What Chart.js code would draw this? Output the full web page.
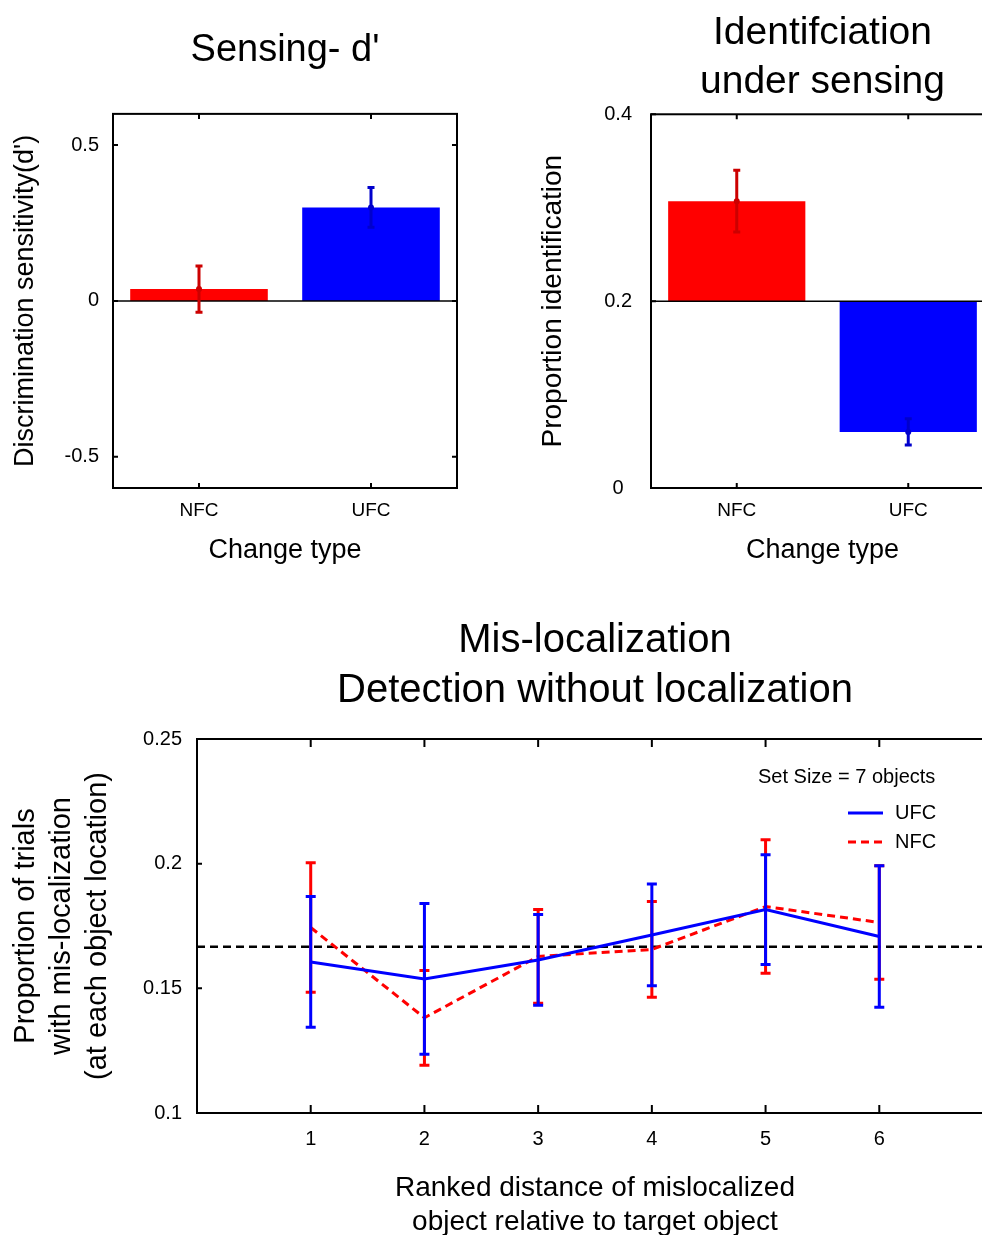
<!DOCTYPE html>
<html>
<head>
<meta charset="utf-8">
<script src="https://cdn.jsdelivr.net/npm/chart.js@4.4.1/dist/chart.umd.min.js"></script>
<style>
  html, body { margin: 0; padding: 0; background: #fff; overflow: hidden; }
  body { width: 982px; height: 1235px; position: relative; }
  canvas { position: absolute; }
  #dprime { left: 0; top: 0; }
  #ident { left: 491px; top: 0; }
  #misloc { left: 0; top: 600px; }
</style>
</head>
<body>
<canvas id="dprime" width="491" height="580"></canvas>
<canvas id="ident" width="520" height="580"></canvas>
<canvas id="misloc" width="1000" height="645"></canvas>
<script>
// valores
const CHANGE_TYPES = ["NFC", "UFC"];

const DPRIME_MEAN = [0.038, 0.30];
const DPRIME_SEM = [0.074, 0.064];
const DPRIME_TICKS = [-0.5, 0, 0.5];

const IDENT_MEAN = [0.307, 0.060];
const IDENT_SEM = [0.033, 0.014];
const IDENT_TICKS = [0, 0.2, 0.4];
const IDENT_BASE = 0.2;

const RANKS = [1, 2, 3, 4, 5, 6];
const UFC_MEAN = [0.1606, 0.1538, 0.1614, 0.1714, 0.1816, 0.1708];
const UFC_SEM = [0.0262, 0.0302, 0.0182, 0.0204, 0.022, 0.0284];
const NFC_MEAN = [0.1744, 0.1382, 0.1628, 0.1656, 0.1828, 0.1764];
const NFC_SEM = [0.026, 0.019, 0.0188, 0.0192, 0.0268, 0.0228];
const CHANCE = 1 / 6;
const RANK_RANGE = [0, 7];
const MISLOC_TICKS = [0.1, 0.15, 0.2, 0.25];

Chart.defaults.font.family = '"Liberation Sans", Arial, sans-serif';
Chart.defaults.color = "#000";

// caja tipo matlab con marcas hacia dentro
const matlabBox = {
  id: "matlabBox",
  afterDraw(chart, args, o) {
    const { ctx, chartArea: a, scales: { x, y } } = chart;
    ctx.save();
    ctx.strokeStyle = "#000";
    ctx.lineWidth = o.lineWidth || 2;
    ctx.beginPath();
    x.ticks.forEach((t, i) => {
      const px = x.getPixelForTick(i);
      ctx.moveTo(px, a.bottom); ctx.lineTo(px, a.bottom - o.tickX);
      ctx.moveTo(px, a.top); ctx.lineTo(px, a.top + o.tickX);
    });
    y.ticks.forEach((t, i) => {
      const py = y.getPixelForTick(i);
      ctx.moveTo(a.left, py); ctx.lineTo(a.left + o.tickY, py);
      ctx.moveTo(a.right, py); ctx.lineTo(a.right - o.tickY, py);
    });
    ctx.stroke();
    ctx.strokeRect(a.left, a.top, a.right - a.left, a.bottom - a.top);
    ctx.restore();
  },
};

// linea base de las barras
const barBaseline = {
  id: "barBaseline",
  afterDatasetDraw(chart, args, o) {
    if (o.value === undefined) return;
    const { ctx, chartArea: a, scales: { y } } = chart;
    const py = y.getPixelForValue(o.value);
    ctx.save();
    ctx.strokeStyle = "#000";
    ctx.lineWidth = 1.5;
    ctx.beginPath();
    ctx.moveTo(a.left, py);
    ctx.lineTo(a.right, py);
    ctx.stroke();
    ctx.restore();
  },
};

// barras de error
const errorBars = {
  id: "errorBars",
  afterDatasetDraw(chart, args) {
    const ds = chart.data.datasets[args.index];
    if (!ds.errors) return;
    const { ctx, scales: { y } } = chart;
    ctx.save();
    ctx.lineWidth = ds.errorWidth;
    args.meta.data.forEach((el, i) => {
      const m = args.meta.controller.getParsed(i).y;
      const e = ds.errors[i];
      const col = Array.isArray(ds.errorColor) ? ds.errorColor[i] : ds.errorColor;
      const top = y.getPixelForValue(m + e);
      const bot = y.getPixelForValue(m - e);
      const h = ds.capWidth / 2;
      ctx.strokeStyle = col;
      ctx.beginPath();
      ctx.moveTo(el.x, top); ctx.lineTo(el.x, bot);
      ctx.moveTo(el.x - h, top); ctx.lineTo(el.x + h, top);
      ctx.moveTo(el.x - h, bot); ctx.lineTo(el.x + h, bot);
      ctx.stroke();
      if (ds.errorMarker) {
        ctx.fillStyle = col;
        ctx.beginPath();
        ctx.arc(el.x, y.getPixelForValue(m), ds.errorMarker, 0, Math.PI * 2);
        ctx.fill();
      }
    });
    ctx.restore();
  },
};

// leyenda dentro del area
const lineLegend = {
  id: "lineLegend",
  afterDraw(chart, args, o) {
    const ctx = chart.ctx;
    ctx.save();
    ctx.font = o.fontSize + "px " + Chart.defaults.font.family;
    ctx.fillStyle = "#000";
    ctx.textBaseline = "middle";
    ctx.fillText(o.title, o.titleX, o.titleY);
    o.items.forEach((idx, k) => {
      const ds = chart.data.datasets[idx];
      const ly = o.itemY + k * o.itemGap;
      ctx.strokeStyle = ds.borderColor;
      ctx.lineWidth = ds.borderWidth;
      ctx.setLineDash(ds.borderDash || []);
      ctx.beginPath();
      ctx.moveTo(o.lineX0, ly);
      ctx.lineTo(o.lineX1, ly);
      ctx.stroke();
      ctx.setLineDash([]);
      ctx.fillText(ds.label, o.textX, ly);
    });
    ctx.restore();
  },
};

const noGrid = { display: false, drawTicks: false };
const noBorder = { display: false };

function crearBarras(id, cfg) {
  new Chart(document.getElementById(id), {
    type: "bar",
    data: {
      labels: CHANGE_TYPES,
      datasets: [{
        data: cfg.mean,
        base: cfg.base,
        errors: cfg.sem,
        backgroundColor: ["#ff0000", "#0000ff"],
        errorColor: ["#cc0000", "#0000cc"],
        errorWidth: 3,
        capWidth: 7,
        errorMarker: 3,
        categoryPercentage: 1,
        barPercentage: 0.8,
      }],
    },
    options: {
      responsive: false,
      animation: false,
      layout: { padding: { left: 0, right: cfg.padRight, top: 0, bottom: 0 } },
      plugins: {
        legend: { display: false },
        tooltip: { enabled: false },
        title: {
          display: true, text: cfg.title, fullSize: false,
          font: { size: cfg.titleSize, weight: "normal", lineHeight: 1.26 },
          padding: cfg.titlePad,
        },
        matlabBox: { tickX: 5, tickY: 5, lineWidth: 2 },
        barBaseline: { value: cfg.baseline },
      },
      scales: {
        x: {
          grid: noGrid, border: noBorder,
          ticks: { font: { size: 19 }, padding: 11 },
          title: { display: true, text: "Change type", font: { size: 27 }, padding: { top: 0, bottom: 13 } },
          afterFit: (s) => { s.height = 92; },
        },
        y: {
          min: cfg.min, max: cfg.max,
          grid: noGrid, border: noBorder,
          afterBuildTicks: (s) => { s.ticks = cfg.ticks.map((v) => ({ value: v })); },
          ticks: { font: { size: 20 }, padding: cfg.tickPad, crossAlign: cfg.crossAlign, callback: (v) => String(v) },
          title: { display: true, text: cfg.yTitle, font: { size: cfg.yTitleSize }, padding: { top: cfg.yTitlePad, bottom: 0 } },
          afterFit: (s) => { s.width = cfg.yWidth; },
        },
      },
    },
    plugins: [matlabBox, barBaseline, errorBars],
  });
}

function crearLineas() {
  new Chart(document.getElementById("misloc"), {
    type: "line",
    data: {
      datasets: [
        {
          label: "UFC",
          data: RANKS.map((r, i) => ({ x: r, y: UFC_MEAN[i] })),
          errors: UFC_SEM,
          borderColor: "#0000ff",
          borderWidth: 3,
          pointRadius: 0,
          errorColor: "#0000ff",
          errorWidth: 3,
          capWidth: 10,
          order: 1,
        },
        {
          label: "NFC",
          data: RANKS.map((r, i) => ({ x: r, y: NFC_MEAN[i] })),
          errors: NFC_SEM,
          borderColor: "#ff0000",
          borderWidth: 3,
          borderDash: [8, 5],
          pointRadius: 0,
          errorColor: "#ff0000",
          errorWidth: 3,
          capWidth: 10,
          order: 2,
        },
        {
          label: "chance",
          data: RANK_RANGE.map((r) => ({ x: r, y: CHANCE })),
          borderColor: "#000",
          borderWidth: 2.5,
          borderDash: [8, 5],
          pointRadius: 0,
          order: 3,
        },
      ],
    },
    options: {
      responsive: false,
      animation: false,
      layout: { padding: { left: 0, right: 7, top: 0, bottom: 0 } },
      plugins: {
        legend: { display: false },
        tooltip: { enabled: false },
        title: {
          display: true,
          text: ["Mis-localization", "Detection without localization"],
          fullSize: false,
          font: { size: 40, weight: "normal", lineHeight: 1.25 },
          padding: { top: 16, bottom: 23 },
        },
        matlabBox: { tickX: 8, tickY: 5, lineWidth: 2 },
        lineLegend: {
          title: "Set Size = 7 objects", fontSize: 20,
          titleX: 758, titleY: 177,
          items: [0, 1], itemY: 213, itemGap: 29,
          lineX0: 848, lineX1: 883, textX: 895,
        },
      },
      scales: {
        x: {
          type: "linear", min: RANK_RANGE[0], max: RANK_RANGE[1],
          grid: noGrid, border: noBorder,
          afterBuildTicks: (s) => { s.ticks = RANKS.map((v) => ({ value: v })); },
          ticks: { font: { size: 20 }, padding: 14, callback: (v) => String(v) },
          title: {
            display: true,
            text: ["Ranked distance of mislocalized", "object relative to target object"],
            font: { size: 28, lineHeight: 1.214 },
            padding: { top: 0, bottom: 6 },
          },
          afterFit: (s) => { s.height = 132; },
        },
        y: {
          min: 0.1, max: 0.25,
          grid: noGrid, border: noBorder,
          afterBuildTicks: (s) => { s.ticks = MISLOC_TICKS.map((v) => ({ value: v })); },
          ticks: { font: { size: 20 }, padding: 15, callback: (v) => String(v) },
          title: {
            display: true,
            text: ["Proportion of trials", "with mis-localization", "(at each object location)"],
            font: { size: 29, lineHeight: 1.241 },
            padding: { top: 8, bottom: 0 },
          },
          afterFit: (s) => { s.width = 197; },
        },
      },
    },
    plugins: [matlabBox, errorBars, lineLegend],
  });
}

crearBarras("dprime", {
  mean: DPRIME_MEAN, sem: DPRIME_SEM, ticks: DPRIME_TICKS,
  min: -0.6, max: 0.6, baseline: 0,
  title: "Sensing- d'", titleSize: 38, titlePad: { top: 27, bottom: 39 },
  yTitle: "Discrimination sensitivity(d')", yTitleSize: 27, yTitlePad: 9,
  yWidth: 113, padRight: 34, tickPad: 14, crossAlign: "near",
});

crearBarras("ident", {
  mean: IDENT_MEAN, sem: IDENT_SEM, ticks: IDENT_TICKS,
  min: 0, max: 0.4, base: IDENT_BASE, baseline: IDENT_BASE,
  title: ["Identifciation", "under sensing"], titleSize: 39, titlePad: { top: 9, bottom: 7 },
  yTitle: "Proportion identification", yTitleSize: 28, yTitlePad: 45,
  yWidth: 160, padRight: 17, tickPad: 19, crossAlign: "center",
});

crearLineas();
</script>
</body>
</html>
